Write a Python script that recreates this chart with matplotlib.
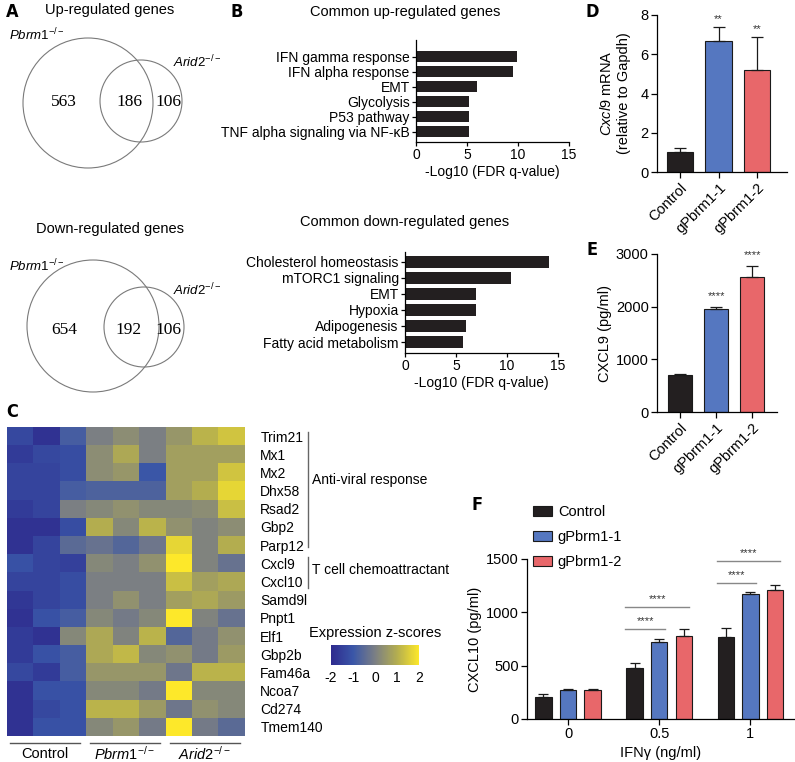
import numpy as np
import matplotlib
matplotlib.use('Agg')
import matplotlib.pyplot as plt
from matplotlib.colors import LinearSegmentedColormap
from matplotlib.patches import Circle

plt.rcParams['font.family'] = ['Liberation Sans', 'DejaVu Sans']
plt.rcParams['mathtext.fontset'] = 'custom'
plt.rcParams['mathtext.rm'] = 'Liberation Sans'
plt.rcParams['mathtext.it'] = 'Liberation Sans:italic'
plt.rcParams['axes.unicode_minus'] = False
plt.rcParams['axes.linewidth'] = 0.9

W, H = 795, 762

# ---- data ----
venn_up = [563, 186, 106]
venn_down = [654, 192, 106]

up_terms = ['IFN gamma response', 'IFN alpha response', 'EMT', 'Glycolysis',
            'P53 pathway', 'TNF alpha signaling via NF-κB']
up_vals = [9.9, 9.5, 6.0, 5.2, 5.2, 5.2]
down_terms = ['Cholesterol homeostasis', 'mTORC1 signaling', 'EMT', 'Hypoxia',
              'Adipogenesis', 'Fatty acid metabolism']
down_vals = [14.1, 10.4, 7.0, 7.0, 6.0, 5.7]

genes = ['Trim21', 'Mx1', 'Mx2', 'Dhx58', 'Rsad2', 'Gbp2', 'Parp12', 'Cxcl9',
         'Cxcl10', 'Samd9l', 'Pnpt1', 'Elf1', 'Gbp2b', 'Fam46a', 'Ncoa7',
         'Cd274', 'Tmem140']
zscores = np.array([
    [-1.3, -1.8, -0.8, 0.0, 0.3, 0.0, 0.5, 1.1, 1.4],
    [-1.6, -1.3, -1.2, 0.3, 0.9, 0.0, 0.7, 0.7, 0.7],
    [-1.4, -1.4, -1.2, 0.3, 0.5, -1.0, 0.7, 0.7, 1.4],
    [-1.4, -1.4, -0.8, -0.7, -0.7, -0.7, 0.7, 1.0, 1.7],
    [-1.6, -1.4, 0.0, 0.2, 0.4, 0.2, 0.2, 0.3, 1.3],
    [-1.8, -1.8, -1.2, 1.0, 0.2, 1.1, 0.4, 0.1, 0.3],
    [-1.8, -1.4, -0.5, -0.3, -0.6, -0.2, 1.7, 0.1, 1.0],
    [-1.1, -1.4, -1.5, 0.2, 0.0, 0.4, 2.0, 0.1, -0.3],
    [-1.4, -1.4, -1.2, 0.0, 0.0, 0.0, 1.3, 0.7, 0.9],
    [-1.7, -1.4, -1.2, 0.0, 0.4, 0.0, 0.7, 0.9, 0.6],
    [-1.8, -1.1, -0.8, 0.2, -0.1, 0.2, 2.0, 0.1, -0.3],
    [-1.6, -1.8, 0.2, 0.9, 0.1, 1.1, -0.6, -0.1, 0.4],
    [-1.6, -1.1, -0.8, 0.9, 1.2, 0.2, 0.4, -0.1, 0.6],
    [-1.3, -1.6, -0.8, 0.5, 0.5, 0.5, -0.2, 1.1, 1.1],
    [-1.8, -1.1, -1.1, 0.2, 0.2, -0.1, 2.0, 0.2, 0.2],
    [-1.8, -1.3, -1.1, 1.1, 1.1, 0.6, -0.2, 0.4, 0.2],
    [-1.8, -1.1, -1.1, 0.2, 0.5, -0.1, 2.0, -0.1, -0.5],
])

samples = ['Control', 'gPbrm1-1', 'gPbrm1-2']
cxcl9_mrna = [1.0, 6.65, 5.2]
cxcl9_mrna_err = [0.2, 0.75, 1.7]
cxcl9_prot = [700, 1960, 2570]
cxcl9_prot_err = [15, 25, 200]

ifng_doses = ['0', '0.5', '1']
cxcl10_ctrl = [210, 475, 770]
cxcl10_ctrl_err = [20, 50, 85]
cxcl10_g1 = [270, 720, 1170]
cxcl10_g1_err = [15, 30, 20]
cxcl10_g2 = [275, 780, 1210]
cxcl10_g2_err = [5, 60, 45]

BLACK = '#231f20'
BLUE = '#5577c0'
RED = '#e8676a'
bar_colors = [BLACK, BLUE, RED]

KO_PBRM1 = r'$\mathit{Pbrm1}^{\mathit{-/-}}$'
KO_ARID2 = r'$\mathit{Arid2}^{\mathit{-/-}}$'


def rect(x0, y0, x1, y1):
    return [x0 / W, 1 - y1 / H, (x1 - x0) / W, (y1 - y0) / H]


fig = plt.figure(figsize=(W / 100, H / 100), dpi=100)

# overlay in pixel coordinates for venns, labels and brackets
ov = fig.add_axes([0, 0, 1, 1])
ov.set_xlim(0, W)
ov.set_ylim(H, 0)
ov.axis('off')

panel_kw = dict(fontsize=13, fontweight='bold', family='DejaVu Sans',
                fontstretch='condensed', ha='center', va='center')
for lab, x, y in [('A', 12, 12), ('B', 237, 12), ('C', 12, 412),
                  ('D', 592, 12), ('E', 592, 250), ('F', 477, 505)]:
    ov.text(x, y, lab, **panel_kw)


# ---- A: venns ----
def venn(cy, big, small, counts, title, ty):
    ov.text(110, ty, title, fontsize=10.5, ha='center', va='center')
    ov.add_patch(Circle(big[:2], big[2], fill=False, ec='#7a7a7a', lw=0.8))
    ov.add_patch(Circle(small[:2], small[2], fill=False, ec='#7a7a7a', lw=0.8))
    for x, c in zip([64, 129, 168], counts):
        ov.text(x, cy, str(c), family='Liberation Serif', fontsize=12.5,
                ha='center', va='center')


venn(102, (88, 103, 65), (141, 101, 41), venn_up, 'Up-regulated genes', 10)
ov.text(9, 35, KO_PBRM1, fontsize=9.5, va='center')
ov.text(173, 62, KO_ARID2, fontsize=9.5, va='center')
venn(330, (93, 326, 66), (144, 327, 40), venn_down, 'Down-regulated genes', 229)
ov.text(9, 266, KO_PBRM1, fontsize=9.5, va='center')
ov.text(173, 290, KO_ARID2, fontsize=9.5, va='center')


# ---- B: enrichment bars ----
def enrich(r, terms, vals, ylim, title, ty):
    ax = fig.add_axes(r)
    y = np.arange(len(terms))
    ax.barh(y, vals, height=0.75, color=BLACK)
    ax.set_ylim(*ylim)
    ax.set_xlim(0, 15)
    ax.set_xticks([0, 5, 10, 15])
    ax.set_yticks(y)
    ax.set_yticklabels(terms)
    ax.tick_params(labelsize=10, length=3, width=0.9, pad=1.5)
    ax.spines['top'].set_visible(False)
    ax.spines['right'].set_visible(False)
    ax.set_xlabel('-Log10 (FDR q-value)', fontsize=10, labelpad=2)
    ov.text(405, ty, title, fontsize=10.5, ha='center', va='center')
    return ax


enrich(rect(416, 40, 569, 142), up_terms, up_vals, (5.7, -1.13),
       'Common up-regulated genes', 12)
enrich(rect(405, 252, 558, 353), down_terms, down_vals, (5.68, -0.6),
       'Common down-regulated genes', 222)

# ---- C: heatmap ----
cmap = LinearSegmentedColormap.from_list(
    'bgy', ['#2e2a8e', '#3a56a8', '#7b7f84', '#b3ad50', '#fde82a'])
ax_c = fig.add_axes(rect(7, 427, 245, 736))
im = ax_c.imshow(zscores, cmap=cmap, vmin=-2, vmax=2, aspect='auto',
                 interpolation='nearest')
ax_c.set_xticks([])
ax_c.set_yticks(np.arange(len(genes)))
ax_c.set_yticklabels(genes)
ax_c.yaxis.tick_right()
ax_c.tick_params(length=0, pad=11, labelsize=10)
for s in ax_c.spines.values():
    s.set_visible(False)

ov.plot([308, 308], [432, 547], color='#666666', lw=1)
ov.text(312, 480, 'Anti-viral response', fontsize=10, va='center')
ov.plot([308, 308], [557, 588], color='#666666', lw=1)
ov.text(312, 570, 'T cell chemoattractant', fontsize=10, va='center')

for x0, x1, lab in [(10, 80, 'Control'), (90, 160, KO_PBRM1), (170, 240, KO_ARID2)]:
    ov.plot([x0, x1], [743, 743], color='#555555', lw=1)
    ov.text((x0 + x1) / 2, 754, lab, fontsize=10.5, ha='center', va='center')

cax = fig.add_axes(rect(331, 645, 419, 665))
cb = fig.colorbar(im, cax=cax, orientation='horizontal', ticks=[-2, -1, 0, 1, 2])
cb.outline.set_visible(False)
cax.tick_params(length=0, pad=4, labelsize=10)
ov.text(375, 633, 'Expression z-scores', fontsize=10.5, ha='center', va='center')


# ---- D, E: single bar charts ----
def simple_bars(r, vals, errs, ylim, yticks, ylabel, stars, star_off, xlim, width, lpad):
    ax = fig.add_axes(r)
    x = np.arange(len(samples))
    ax.bar(x, vals, width=width, color=bar_colors, edgecolor='#1a1a1a', lw=0.8,
           yerr=[np.zeros(len(errs)), errs], capsize=4,
           error_kw=dict(lw=0.9, capthick=0.9, ecolor='#1a1a1a'))
    for xi, v, e, s in zip(x, vals, errs, stars):
        if s:
            ax.text(xi, v + e + star_off, s, fontsize=8, ha='center', va='bottom',
                    color='#333333')
    ax.set_xlim(*xlim)
    ax.set_ylim(*ylim)
    ax.set_yticks(yticks)
    ax.set_xticks(x)
    ax.set_xticklabels(samples, rotation=45, ha='right', rotation_mode='anchor')
    ax.tick_params(labelsize=10.5, length=4, width=0.9, pad=2)
    ax.spines['top'].set_visible(False)
    ax.spines['right'].set_visible(False)
    ax.set_ylabel(ylabel, fontsize=10.5, labelpad=lpad)
    return ax


simple_bars(rect(657, 15, 787, 172), cxcl9_mrna, cxcl9_mrna_err, (0, 8),
            [0, 2, 4, 6, 8], r'$\mathit{Cxcl9}$ mRNA' + '\n(relative to Gapdh)',
            ['', '**', '**'], 0.15, (-0.6, 2.78), 0.68, 7)
simple_bars(rect(657, 254, 777, 412), cxcl9_prot, cxcl9_prot_err, (0, 3000),
            [0, 1000, 2000, 3000], 'CXCL9 (pg/ml)',
            ['', '****', '****'], 120, (-0.64, 2.69), 0.65, 3)

# ---- F: grouped bars ----
ax_f = fig.add_axes(rect(527, 559, 795, 719))
g = np.arange(len(ifng_doses))
handles = []
for off, vals, errs, col, lab in [(-0.27, cxcl10_ctrl, cxcl10_ctrl_err, BLACK, 'Control'),
                                  (0.0, cxcl10_g1, cxcl10_g1_err, BLUE, 'gPbrm1-1'),
                                  (0.27, cxcl10_g2, cxcl10_g2_err, RED, 'gPbrm1-2')]:
    b = ax_f.bar(g + off, vals, width=0.18, color=col, edgecolor='#1a1a1a', lw=0.8,
                 yerr=[np.zeros(len(errs)), errs], capsize=3.5,
                 error_kw=dict(lw=0.9, capthick=0.9, ecolor='#1a1a1a'), label=lab)
    handles.append(b)

# significance brackets: (group, right end offset, height)
sig = [(1, 0.06, 845), (1, 0.33, 1050), (2, 0.06, 1275), (2, 0.33, 1480)]
for gi, end, yv in sig:
    ax_f.plot([gi - 0.37, gi + end], [yv, yv], color='#888888', lw=1, clip_on=False)
    ax_f.text((2 * gi - 0.37 + end) / 2, yv + 30, '****', fontsize=8,
              ha='center', va='bottom', color='#333333')

ax_f.set_xlim(-0.45, 2.49)
ax_f.set_ylim(0, 1500)
ax_f.set_yticks([0, 500, 1000, 1500])
ax_f.set_xticks(g)
ax_f.set_xticklabels(ifng_doses)
ax_f.tick_params(labelsize=10.5, length=4, width=0.9, pad=2)
ax_f.spines['top'].set_visible(False)
ax_f.spines['right'].set_visible(False)
ax_f.set_ylabel('CXCL10 (pg/ml)', fontsize=10.5, labelpad=3)
ax_f.set_xlabel('IFNγ (ng/ml)', fontsize=10.5, labelpad=3)
ax_f.legend(handles=handles, loc='upper left', bbox_to_anchor=(533 / W, 1 - 505 / H),
            bbox_transform=fig.transFigure, frameon=False, fontsize=10.5,
            handlelength=1.3, handleheight=0.7, handletextpad=0.4,
            labelspacing=0.75, borderaxespad=0, borderpad=0)

fig.savefig('out.png', dpi=100)
